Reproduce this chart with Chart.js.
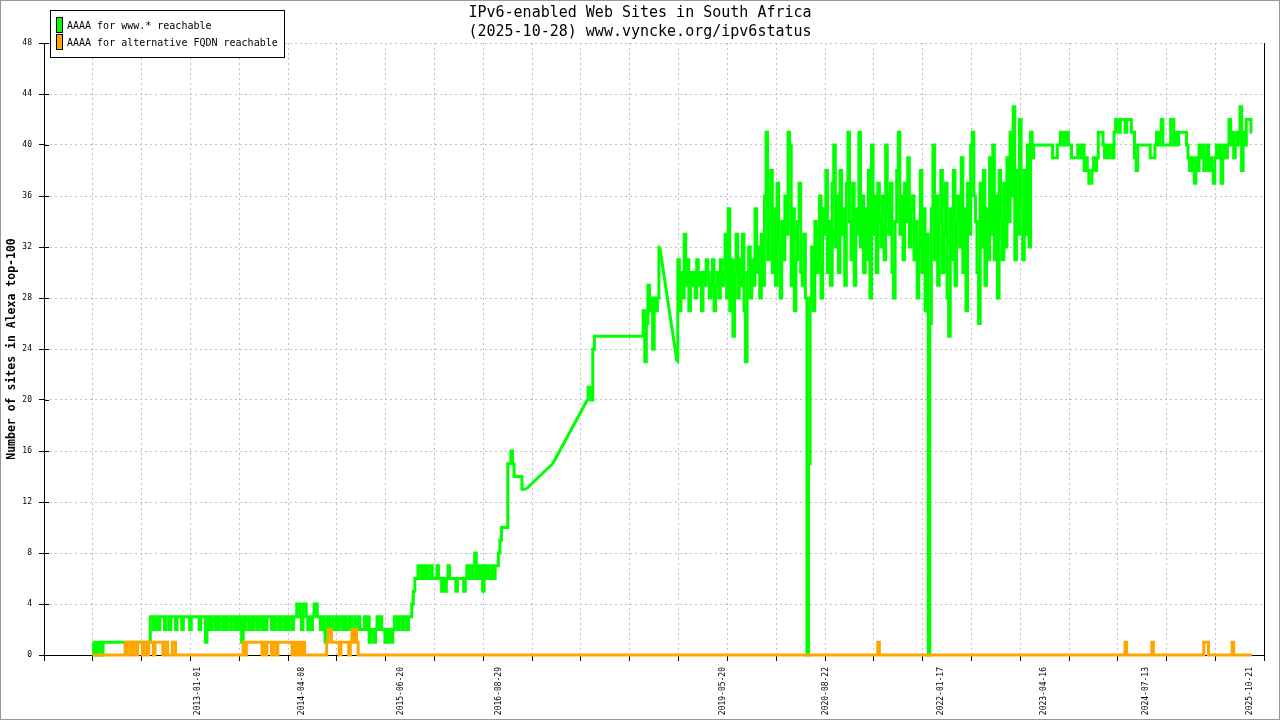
<!DOCTYPE html>
<html>
<head>
<meta charset="utf-8">
<title>IPv6-enabled Web Sites in South Africa</title>
<script src="https://cdn.jsdelivr.net/npm/chart.js@4.4.1/dist/chart.umd.min.js"></script>
<style>
  html, body { margin: 0; padding: 0; background: #fff; }
  #ipv6Chart { display: block; background: #fff; }
</style>
</head>
<body>
<canvas id="ipv6Chart" width="1280" height="720"></canvas>
<script>
// IPv6 status - South Africa (Alexa top-100)

// One sample per week, first on 2011-09-20, last on 2025-10-28
const firstWeek = '2011-09-20';

// Sites with AAAA for www.* reachable (null = no sample that week)
const wwwSites = [
    1,0,1,0,1,1,0,1,1,1,1,1,1,1,1,1,1,1,1,1,
    1,1,1,1,1,1,1,1,1,1,1,1,1,1,1,1,1,3,3,2,
    3,3,2,3,3,3,2,3,3,2,3,3,3,2,3,3,3,2,3,3,
    3,3,2,3,3,3,3,3,2,3,3,3,1,2,3,2,3,3,2,3,
    2,3,3,2,3,2,3,3,2,3,3,2,3,2,3,1,3,2,3,3,
    2,3,2,3,3,2,3,3,2,3,2,3,3,3,2,3,2,3,3,2,
    3,3,2,3,2,3,3,2,3,3,4,4,3,2,4,4,3,2,3,2,
    3,4,4,3,3,2,3,2,1,3,2,3,3,2,2,3,2,3,3,2,
    3,2,2,3,2,3,3,2,2,3,2,2,2,3,2,3,1,2,2,1,
    2,3,2,3,2,2,1,2,1,2,1,2,3,3,2,3,3,2,3,3,
    2,3,3,4,5,6,6,7,7,6,7,6,7,6,6,7,6,6,6,7,
    6,6,5,6,5,6,7,6,6,6,6,5,6,6,6,6,5,6,7,6,
    7,6,7,8,6,7,6,7,5,7,6,7,6,6,7,6,7,7,8,9,
    10,10,10,10,15,15,16,15,14,14,14,14,14,13,13,13,null,null,null,null,
    null,null,null,null,null,null,null,null,null,null,null,null,15,null,null,null,null,null,null,null,
    null,null,null,null,null,null,null,null,null,null,null,null,null,null,20,21,21,20,24,25,
    25,25,25,25,25,25,25,25,25,25,25,25,25,25,25,25,25,25,25,25,
    25,25,25,25,25,25,25,25,25,25,27,23,26,29,27,28,24,28,27,28,
    32,null,null,null,null,null,null,null,null,null,null,23,31,27,30,28,33,29,31,27,
    30,29,30,28,31,29,30,27,30,29,31,30,28,29,31,27,29,30,28,31,
    29,30,33,28,35,27,31,25,30,33,28,31,29,33,27,23,30,32,28,31,
    29,35,30,32,28,33,29,36,41,31,34,38,30,35,29,37,32,28,34,31,
    36,33,41,40,29,35,27,31,34,37,30,29,33,28,0,15,28,32,27,34,
    30,31,36,28,35,33,38,30,34,29,37,40,32,36,30,38,33,35,29,37,
    41,34,31,37,29,35,33,41,32,36,30,35,31,38,28,40,33,36,30,37,
    34,32,36,31,40,35,33,37,30,28,34,38,41,33,36,31,37,34,39,32,
    35,36,31,34,28,32,38,30,35,27,33,0,26,35,40,31,36,29,34,38,
    30,33,37,28,25,35,31,38,29,34,36,32,39,30,35,27,37,33,40,41,
    36,34,30,26,37,32,38,29,35,31,39,33,40,31,36,28,38,34,31,37,
    32,39,34,41,36,43,31,38,33,42,35,31,38,33,40,32,41,39,40,40,
    40,40,40,40,40,40,40,40,40,40,39,39,39,40,40,41,41,40,41,41,
    40,40,39,39,39,39,40,40,39,40,38,39,38,37,37,38,39,38,39,41,
    41,41,40,39,40,39,40,40,39,41,42,42,41,42,42,42,41,42,42,42,
    41,41,39,38,40,40,40,40,40,40,40,40,39,39,39,40,41,40,41,42,
    40,40,40,40,40,42,42,40,41,40,41,41,41,41,41,40,39,38,39,38,
    37,39,38,40,39,40,38,39,40,38,39,38,37,39,40,39,40,37,39,40,
    39,40,42,40,41,39,40,41,40,43,38,41,40,42,42,42,41
];

// Sites with AAAA for an alternative FQDN reachable
const altSites = [
    0,0,0,0,0,0,0,0,0,0,0,0,0,0,0,0,0,0,0,0,
    0,1,0,1,1,0,1,1,0,1,1,1,0,1,1,0,1,1,1,0,
    1,1,1,1,1,0,1,1,0,0,0,1,1,0,0,0,0,0,0,0,
    0,0,0,0,0,0,0,0,0,0,0,0,0,0,0,0,0,0,0,0,
    0,0,0,0,0,0,0,0,0,0,0,0,0,0,0,0,1,0,1,1,
    1,1,1,1,1,1,1,1,0,1,0,1,1,1,0,1,1,0,1,1,
    1,1,1,1,1,1,1,0,1,0,1,0,1,0,1,0,0,0,0,0,
    0,0,0,0,0,0,0,0,0,1,2,2,1,1,1,1,1,0,1,1,
    1,1,1,0,1,2,1,2,1,0,0,0,0,0,0,0,0,0,0,0,
    0,0,0,0,0,0,0,0,0,0,0,0,0,0,0,0,0,0,0,0,
    0,0,0,0,0,0,0,0,0,0,0,0,0,0,0,0,0,0,0,0,
    0,0,0,0,0,0,0,0,0,0,0,0,0,0,0,0,0,0,0,0,
    0,0,0,0,0,0,0,0,0,0,0,0,0,0,0,0,0,0,0,0,
    0,0,0,0,0,0,0,0,0,0,0,0,0,0,0,0,0,0,0,0,
    0,0,0,0,0,0,0,0,0,0,0,0,0,0,0,0,0,0,0,0,
    0,0,0,0,0,0,0,0,0,0,0,0,0,0,0,0,0,0,0,0,
    0,0,0,0,0,0,0,0,0,0,0,0,0,0,0,0,0,0,0,0,
    0,0,0,0,0,0,0,0,0,0,0,0,0,0,0,0,0,0,0,0,
    0,0,0,0,0,0,0,0,0,0,0,0,0,0,0,0,0,0,0,0,
    0,0,0,0,0,0,0,0,0,0,0,0,0,0,0,0,0,0,0,0,
    0,0,0,0,0,0,0,0,0,0,0,0,0,0,0,0,0,0,0,0,
    0,0,0,0,0,0,0,0,0,0,0,0,0,0,0,0,0,0,0,0,
    0,0,0,0,0,0,0,0,0,0,0,0,0,0,0,0,0,0,0,0,
    0,0,0,0,0,0,0,0,0,0,0,0,0,0,0,0,0,0,0,0,
    0,0,0,0,0,0,0,0,0,0,0,0,0,0,0,0,0,0,0,1,
    0,0,0,0,0,0,0,0,0,0,0,0,0,0,0,0,0,0,0,0,
    0,0,0,0,0,0,0,0,0,0,0,0,0,0,0,0,0,0,0,0,
    0,0,0,0,0,0,0,0,0,0,0,0,0,0,0,0,0,0,0,0,
    0,0,0,0,0,0,0,0,0,0,0,0,0,0,0,0,0,0,0,0,
    0,0,0,0,0,0,0,0,0,0,0,0,0,0,0,0,0,0,0,0,
    0,0,0,0,0,0,0,0,0,0,0,0,0,0,0,0,0,0,0,0,
    0,0,0,0,0,0,0,0,0,0,0,0,0,0,0,0,0,0,0,0,
    0,0,0,0,0,0,0,0,0,0,0,0,0,0,0,0,1,0,0,0,
    0,0,0,0,0,0,0,0,0,0,0,0,0,1,0,0,0,0,0,0,
    0,0,0,0,0,0,0,0,0,0,0,0,0,0,0,0,0,0,0,0,
    0,0,0,0,0,0,1,1,1,0,0,0,0,0,0,0,0,0,0,0,
    0,0,0,0,1,0,0,0,0,0,0,0,0,0,0,0,0
];

// Dates printed under the x axis
const xLabelDates = ['2013-01-01', '2014-04-08', '2015-06-20', '2016-08-29', '2019-05-20',
                     '2020-08-22', '2022-01-17', '2023-04-16', '2024-07-13', '2025-10-21'];

// Y axis: 0 .. 48, every 4
const yMin = 0, yMax = 48, yStep = 4;

const TRANSPARENT = 'rgba(0,0,0,0)';
const GRID_GRAY = '#c0c0c0';
const WWW_COLOR = '#00ff00';
const ALT_COLOR = '#ffa500';

function dayNumber(iso) {
    const p = iso.split('-').map(Number);
    return Date.UTC(p[0], p[1] - 1, p[2]) / 86400000;
}

function weeklyPoints(values) {
    const start = dayNumber(firstWeek);
    return values.map(function(v, i) {
        return { x: start + 7 * i, y: v };
    });
}

// Straight lines over the weeks without samples (first/last known values)
function gapBridges(values) {
    const pts = weeklyPoints(values);
    const out = [];
    for (let i = 1; i < values.length; i++) {
        if (values[i] === null && values[i - 1] !== null) {
            let j = i;
            while (j < values.length && values[j] === null) j++;
            if (j < values.length) {
                out.push(pts[i - 1], pts[j], { x: pts[j].x, y: null });
            }
        }
    }
    return out;
}

// x range of the plot (25 equal grid steps)
const axisStart = dayNumber('2011-02-15');
const axisEnd = dayNumber('2025-12-23');

const labelByDay = {};
xLabelDates.forEach(function(d) { labelByDay[dayNumber(d)] = d; });

// Legend box, frame and the inner half of the y tick marks
const ipv6Decor = {
    id: 'ipv6Decor',
    afterDraw: function(chart) {
        const ctx = chart.ctx;
        const area = chart.chartArea;
        const yScale = chart.scales.y;

        ctx.save();
        ctx.strokeStyle = '#000';
        ctx.lineWidth = 1;
        ctx.beginPath();
        yScale.ticks.forEach(function(t) {
            const py = Math.round(yScale.getPixelForValue(t.value)) + 0.5;
            ctx.moveTo(area.left, py);
            ctx.lineTo(area.left + 5, py);
        });
        ctx.stroke();

        // legend
        ctx.fillStyle = '#fff';
        ctx.fillRect(50, 10, 234, 47);
        ctx.strokeRect(50.5, 10.5, 234, 47);
        ctx.font = '10px "DejaVu Sans Mono"';
        ctx.textBaseline = 'middle';
        ctx.textAlign = 'left';
        chart.data.datasets.filter(function(ds) { return !ds.bridge; }).forEach(function(ds, i) {
            const top = 17 + i * 17;
            ctx.fillStyle = ds.borderColor;
            ctx.fillRect(56, top, 6, 15);
            ctx.strokeStyle = '#000';
            ctx.strokeRect(56.5, top + 0.5, 6, 15);
            ctx.fillStyle = '#000';
            ctx.fillText(ds.label, 67, top + 9);
        });

        // outer frame
        ctx.strokeStyle = '#999';
        ctx.strokeRect(0.5, 0.5, chart.width - 1, chart.height - 1);
        ctx.restore();
    }
};

document.addEventListener('DOMContentLoaded', function() {
    initIpv6Chart();
});

function initIpv6Chart() {
    const ctx = document.getElementById('ipv6Chart');
    if (!ctx) return;

    Chart.defaults.font.family = '"DejaVu Sans Mono", monospace';
    Chart.defaults.color = '#000';

    new Chart(ctx, {
        type: 'line',
        data: {
            datasets: [{
                label: 'AAAA for www.* reachable',
                data: weeklyPoints(wwwSites),
                borderColor: WWW_COLOR,
                backgroundColor: WWW_COLOR,
                borderWidth: 3,
                pointRadius: 0,
                stepped: 'middle',
                spanGaps: false,
                clip: false,
                order: 2
            }, {
                label: 'AAAA for alternative FQDN reachable',
                data: weeklyPoints(altSites),
                borderColor: ALT_COLOR,
                backgroundColor: ALT_COLOR,
                borderWidth: 3,
                pointRadius: 0,
                stepped: 'middle',
                clip: false,
                order: 1
            }, {
                label: 'www.* (no samples)',
                bridge: true,
                data: gapBridges(wwwSites),
                borderColor: WWW_COLOR,
                borderWidth: 3,
                pointRadius: 0,
                tension: 0,
                spanGaps: false,
                clip: false,
                order: 2
            }]
        },
        options: {
            responsive: false,
            animation: false,
            devicePixelRatio: 1,
            layout: { padding: 0 },
            plugins: {
                legend: { display: false },
                tooltip: { enabled: false },
                title: {
                    display: true,
                    text: ['IPv6-enabled Web Sites in South Africa', '(2025-10-28) www.vyncke.org/ipv6status'],
                    color: '#000',
                    font: { size: 15, weight: 'normal', lineHeight: 1.25 },
                    padding: { top: 4, bottom: 1.5 }
                }
            },
            scales: {
                x: {
                    type: 'linear',
                    min: axisStart,
                    max: axisEnd,
                    afterBuildTicks: function(scale) {
                        const ticks = [];
                        const step = (axisEnd - axisStart) / 25;
                        for (let k = 0; k <= 25; k++) {
                            ticks.push({ value: axisStart + k * step });
                        }
                        xLabelDates.forEach(function(d) {
                            ticks.push({ value: dayNumber(d) });
                        });
                        ticks.sort(function(a, b) { return a.value - b.value; });
                        scale.ticks = ticks;
                    },
                    afterFit: function(scale) {
                        scale.height = 65;
                    },
                    ticks: {
                        autoSkip: false,
                        minRotation: 90,
                        maxRotation: 90,
                        padding: 6,
                        labelOffset: 0,
                        color: '#000',
                        font: { size: 8 },
                        callback: function(value) {
                            return labelByDay[value] || '';
                        }
                    },
                    grid: {
                        tickLength: 6,
                        color: function(c) {
                            if (!c.tick) return TRANSPARENT;
                            const v = c.tick.value;
                            if (labelByDay[v] || v === axisStart || v === axisEnd) return TRANSPARENT;
                            return GRID_GRAY;
                        },
                        tickColor: function(c) {
                            return c.tick && labelByDay[c.tick.value] ? TRANSPARENT : '#000';
                        }
                    },
                    border: { color: '#000', width: 1, dash: [2, 3] }
                },
                y: {
                    min: yMin,
                    max: yMax,
                    afterFit: function(scale) {
                        scale.width = 44;
                    },
                    ticks: {
                        stepSize: yStep,
                        padding: 7,
                        color: '#000',
                        font: { size: 8 }
                    },
                    grid: {
                        tickLength: 5,
                        color: function(c) {
                            return c.tick && c.tick.value === yMin ? TRANSPARENT : GRID_GRAY;
                        },
                        tickColor: '#000'
                    },
                    border: { color: '#000', width: 1, dash: [2, 3] },
                    title: {
                        display: true,
                        text: 'Number of sites in Alexa top-100',
                        color: '#000',
                        font: { size: 11.5, weight: 'bold' },
                        padding: { top: 5, bottom: 0 }
                    }
                },
                y2: {
                    position: 'right',
                    min: yMin,
                    max: yMax,
                    afterFit: function(scale) {
                        scale.width = 15;
                    },
                    ticks: { display: false },
                    grid: { drawOnChartArea: false, drawTicks: false },
                    border: { color: '#000', width: 1 }
                }
            }
        },
        plugins: [ipv6Decor]
    });
}
</script>
</body>
</html>
